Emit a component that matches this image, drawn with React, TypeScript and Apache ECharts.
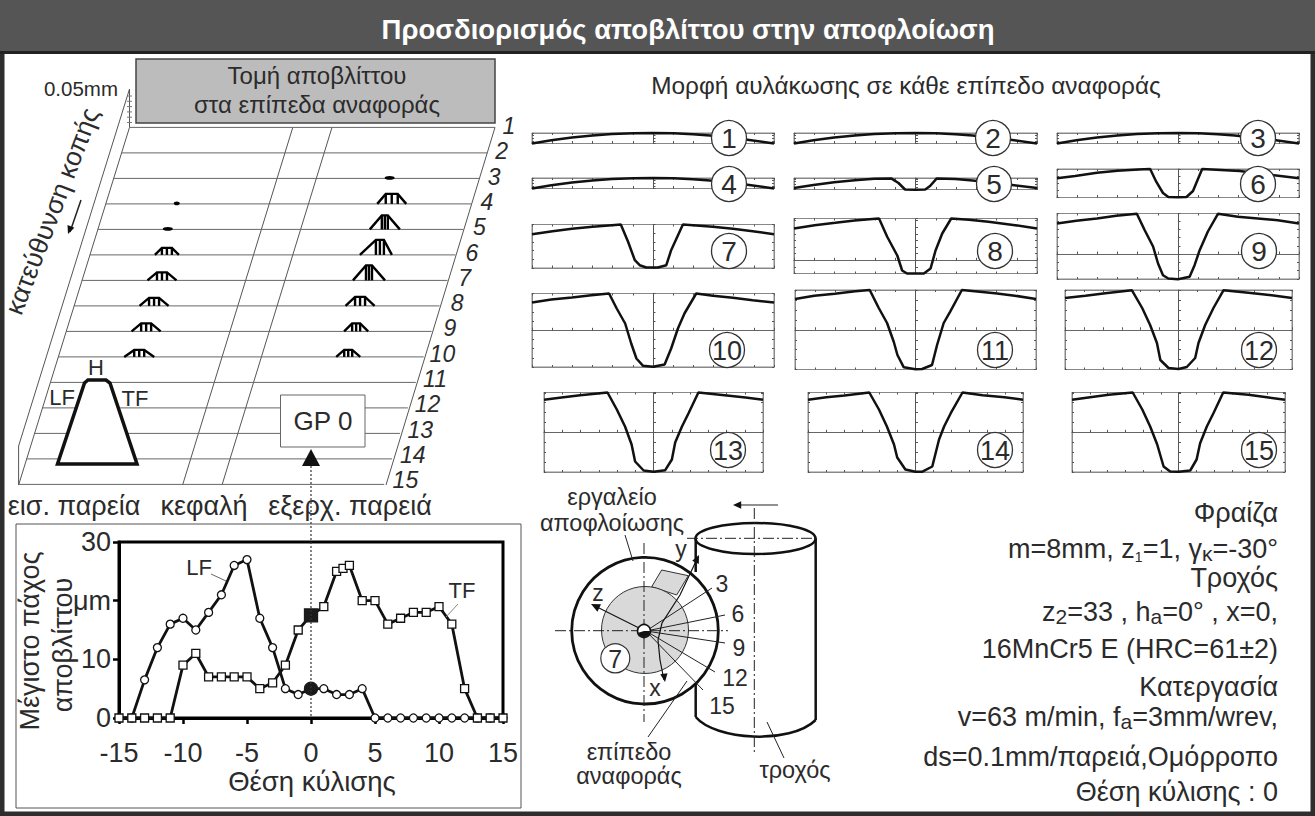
import React, { useEffect, useRef } from "react";
import * as echarts from "echarts";

const FONT = "Liberation Sans";
const INK = "#2b2b2b";

// ---- main thickness chart
const rollPositions = [-15,-14,-13,-12,-11,-10,-9,-8,-7,-6,-5,-4,-3,-2,-1,0,1,2,3,4,5,6,7,8,9,10,11,12,13,14,15];
const lfThickness = [0,0,6.5,12,16,17,15,18,21,26,27,17,12,5,4,5,5,4,4,5,0,0,0,0,0,0,0,0,0,0,0];
const tfPositions = [-15,-14,-13,-12,-11,-10,-9,-8,-7,-6,-5,-4,-3,-2,-1,0,1,2,2.5,3,4,5,6,7,8,9,10,11,12,13,14,15];
const tfThickness = [0,0,0,0,0,9,11,7,7,7,7,5,6,9,15,17.5,19,25,25.5,26,20,20,16,17,18,18,19,16,5,0,0,0];

// ---- perspective chip sections: [row, across, half width, height, half top, peak shift]
const rowNumbers = [1,2,3,4,5,6,7,8,9,10,11,12,13,14,15];
const leadingChips = [[4,71,3,0,0,0],[5,70,5,0,0,0],[6,77,12,7,5,0],[7,80,14.5,8,5,0],[8,80,14.5,8,5,0],[9,80,14.5,8,5,0],[10,81,15,7,5,0]];
const trailingChips = [[3,276,5,0,0,0],[4,286,14.5,10,6,0],[5,287,15,14,3,0],[6,286,16,15,4,4],[7,287,16,15,3,0],[8,286,14.5,9,5,0],[9,290,12,8,4,0],[10,290,12,7,4,0]];

// ---- groove profiles: x as % of half width, depth below the panel's top
const profileFlat = [[-100,10.5],[-84,7.3],[-67,4.6],[-50,2.5],[-34,1],[-16,0.3],[0,0],[17,0.3],[33,1.3],[47,2.5],[78,6.7],[100,10.5]];
const profile5 = [[-100,10],[-84,7],[-67,4.3],[-50,2.2],[-34,0.8],[-20,0.4],[-14,5],[-8.6,11.5],[0,11.8],[8,11.5],[12,8],[17.5,0.4],[33,1],[47,2.5],[78,6.7],[100,10]];
const profile6 = [[-100,9.3],[-85,7],[-67,3.7],[-50,1.7],[-33,0.5],[-23,0],[-18,12.7],[-12.4,24],[-8,28],[0,28.3],[7,28],[12.4,22],[16.5,10],[20,0],[51,2],[100,9.3]];
const profile7 = [[-100,9.7],[-83,6.7],[-67,4.3],[-50,2.3],[-34,0.7],[-26.6,0],[-20.6,17.3],[-15,35.7],[-11,40.7],[-5.5,43],[4,43],[11,40.7],[15,25.7],[24.7,0],[33,0.7],[49.5,2.3],[66,4.3],[82.4,6.7],[100,9.7]];
const profile8 = [[-100,10],[-83,6.7],[-66,4.3],[-50,2],[-33,0.3],[-30,0],[-23.4,18],[-15,37],[-11,52],[-7,55],[0,55],[6.9,55],[12.4,50],[16.5,32],[22,15],[29.4,0],[44,1.3],[60,3.3],[82,6.7],[100,10]];
const profile9 = [[-100,10],[-84,7.3],[-67,5],[-51,2.3],[-34,0.3],[-27.5,16.7],[-20.6,33],[-16.5,50],[-12.4,61.7],[-8,65],[0,65.7],[9.6,63.3],[13.7,51.7],[17.9,36.7],[24.7,18],[33,0.3],[49.5,3.3],[66,5],[82.4,6.7],[100,10]];
const profile10 = [[-100,9],[-84,6],[-67,4],[-51,1.7],[-36.3,0],[-30,15],[-23,30],[-18,50],[-13.7,65],[-8.2,72.3],[0,73.3],[9.6,71],[15,55],[20.6,35],[26,20],[35.7,0],[49.5,2.3],[66,4.3],[82.4,6.7],[100,9]];
const profile11 = [[-100,9],[-84,5.7],[-67,3.7],[-50,1.3],[-38,0],[-30.5,18],[-23.6,33],[-18,52],[-15,65],[-9.7,77.3],[0,79.3],[5.5,79],[13.7,75],[17.9,55],[23.4,33],[28.8,21.7],[38.5,0],[66,3.3],[82.4,5.7],[100,9]];
const profile12 = [[-100,8],[-82,5.7],[-64.5,3.3],[-41,0.3],[-32,18],[-25,35],[-19,53],[-16,70],[-8.8,78],[0,79],[7.3,77],[14.7,68],[17.6,53],[23.5,35],[30.8,18],[39.6,0.3],[61.6,2.7],[82,5.3],[100,8]];
const profile13 = [[-100,7.3],[-84,5],[-67,2.7],[-42,0],[-33.5,17],[-26,34],[-20,52],[-16.8,69],[-9,78],[0,79.3],[10.7,77.7],[16.8,67],[19.8,50],[26,34],[32,20.7],[41,0],[67,3],[84,5],[100,7.3]];
const profile14 = [[-100,7.3],[-83,4.7],[-66,3],[-43,0],[-34,17],[-26.6,34],[-20,52],[-17,65],[-9.4,77],[0,79.3],[6,79.3],[15.6,74],[18.7,60.7],[21.9,47],[26.6,34],[32.8,20.7],[43.7,0],[62.5,2.7],[82.8,4.7],[100,7.3]];
const profile15 = [[-100,7.3],[-83,4.7],[-65.6,2.3],[-43,0],[-34,17],[-26.6,34],[-20,52],[-14,74],[-7.8,79],[0,79.3],[11,78],[17,67],[20.3,50.7],[26.6,34],[32.8,20.7],[42,0],[65.6,2.3],[83,4.7],[100,7.3]];
const profiles = [profileFlat,profileFlat,profileFlat,profileFlat,profile5,profile6,profile7,profile8,profile9,profile10,profile11,profile12,profile13,profile14,profile15];

// panel layout: left, right, top, bottom, px below the horizontal axis, y tick step, label cx, label cy
const panelLayout = [
  [532,774,133,143.5,0,2.6,729,138],[794,1037,133,143.5,0,2.6,993,138],[1057,1299,133,143.5,0,2.6,1258,138],
  [532,774,178,188.5,0,2.6,729,184],[794,1037,178,189.5,0,2.6,994,184],[1057,1299,169,197.5,0,7,1258,184],
  [532,774,224.5,268,0,8.7,729,251],[794,1037,218.5,273.5,13.2,6.6,995,251],[1057,1299,213.5,279,25,8.3,1259,251],
  [532,774,293.5,367,36.7,9.2,727,350],[795,1036,290,369.5,39.7,9.9,995,350],[1065,1292,290,369.5,39.7,9.9,1259,350],
  [544,763,392.5,472,39.7,9.9,728,450],[808,1023,392.5,472,39.7,9.9,995,450],[1072,1285,392.5,472,39.7,9.9,1259,450],
];

const rightTexts = [
  ["Φραίζα", 513],
  ["m=8mm, z{s|1}=1, γ{b|κ}=-30°", 549],
  ["Τροχός", 578],
  ["z{b|2}=33 , h{b|a}=0° , x=0,", 612],
  ["16MnCr5 E (HRC=61±2)", 649],
  ["Κατεργασία", 687],
  ["v=63 m/min, f{b|a}=3mm/wrev,", 717],
  ["ds=0.1mm/παρειά,Ομόρροπο", 757],
  ["Θέση κύλισης : 0", 792],
] as const;

const diagramNumbers = [["3",722,584,712,588],["6",738,614,725,615],["9",739,648,725,643],["12",735,678,715,672],["15",722,706,703,690]] as const;

function label(text: string, x: number, y: number, fontSize: number, extra: any = {}, el: any = {}) {
  return {
    type: "text", x, y, z: 30, silent: true, ...el,
    style: { text, fill: INK, fontSize, fontFamily: FONT, align: "center", verticalAlign: "middle", ...extra },
  };
}
function seg(x1: number, y1: number, x2: number, y2: number, stroke = "#333", lineWidth = 1, z = 20, lineDash?: number[]) {
  return { type: "line", z, silent: true, shape: { x1, y1, x2, y2 }, style: { stroke, lineWidth, lineDash } };
}
function head(x1: number, y1: number, x2: number, y2: number, s = 8) {
  const a = Math.atan2(y2 - y1, x2 - x1);
  const p = (d: number) => [x2 - s * Math.cos(a + d), y2 - s * Math.sin(a + d)];
  return { type: "polygon", z: 21, silent: true, shape: { points: [[x2, y2], p(0.42), p(-0.42)] }, style: { fill: "#111" } };
}
const DASHDOT = [11, 3, 2, 3];

function decoration(): any[] {
  const els: any[] = [];
  // frame and title
  els.push({ type: "rect", z: 1, shape: { x: 2, y: 2, width: 1311, height: 812 }, style: { fill: "none", stroke: "#2e2e2e", lineWidth: 5 } });
  els.push({ type: "rect", z: 1, shape: { x: 0, y: 0, width: 1315, height: 52 }, style: { fill: "#555", stroke: "none" } });
  els.push(seg(0, 52.5, 1315, 52.5, "#222", 3, 2));
  els.push(label("Προσδιορισμός αποβλίττου στην αποφλοίωση", 688, 29, 27.5, { fill: "#fff", fontWeight: "bold" }));

  // perspective plane
  els.push(seg(18.6, 446, 129.5, 89, "#555", 1, 1));
  els.push(seg(18.6, 446, 18.6, 485, "#555", 1, 1));
  els.push(seg(129.5, 89, 129.5, 127.4, "#555", 1, 1));
  for (let i = 0; i < 6; i++) els.push(seg(127, 96 + i * 5.3, 132, 96 + i * 5.3, "#777", 1, 1));
  els.push(seg(129.5, 127.4, 18.6, 485, "#555", 1, 1));
  els.push(seg(495, 127.4, 386, 485, "#555", 1, 1));
  els.push(seg(292.8, 127.4, 182.6, 485, "#555", 1, 1));
  els.push(seg(332, 127.4, 222, 485, "#555", 1, 1));
  rowNumbers.forEach((r) => els.push(label(String(r), 509 - 7.4 * (r - 1), 126 + 25.3 * (r - 1), 23, { fontStyle: "italic" })));

  els.push(label("0.05mm", 81, 88, 20.5));
  els.push({ type: "rect", z: 5, shape: { x: 136, y: 59, width: 359, height: 64 }, style: { fill: "#bcbcbc", stroke: "#444", lineWidth: 1.5 } });
  els.push(label("Τομή αποβλίττου", 317, 75, 24));
  els.push(label("στα επίπεδα αναφοράς", 317, 104, 24));
  els.push(label("κατεύθυνση κοπής", 52, 211, 26.5, {}, { rotation: (69 * Math.PI) / 180 }));
  els.push(seg(81, 200, 70, 232, "#222", 1.5), head(81, 200, 68, 234, 9));

  els.push({ type: "polygon", z: 10, shape: { points: [[57.5, 464], [137, 464], [110, 383], [106, 380], [88, 380], [84.5, 383]] }, style: { fill: "#fff", stroke: "#111", lineWidth: 3.5 } });
  els.push(label("H", 96, 367, 22), label("LF", 62, 397, 22), label("TF", 135, 398, 22));
  els.push({ type: "rect", z: 10, shape: { x: 280.5, y: 395, width: 84.5, height: 52 }, style: { fill: "#fff", stroke: "#666", lineWidth: 1 } });
  els.push(label("GP 0", 323, 421, 26));
  els.push(label("εισ. παρεία", 74, 506, 27), label("κεφαλή", 204, 506, 27), label("εξερχ. παρειά", 350, 506, 27));
  els.push({ type: "polygon", z: 22, shape: { points: [[311, 449], [302, 466], [320, 466]] }, style: { fill: "#111" } });
  els.push(seg(311, 466, 311, 718, "#333", 1.2, 22, [2, 2]));

  // chart box
  els.push({ type: "rect", z: 1, shape: { x: 16, y: 524, width: 505, height: 284 }, style: { fill: "none", stroke: "#555", lineWidth: 1 } });
  els.push(label("Μέγιστο πάχος", 30, 641, 27, {}, { rotation: Math.PI / 2 }));
  els.push(label("αποβλίττου", 63, 645, 27, {}, { rotation: Math.PI / 2 }));
  els.push(label("Θέση κύλισης", 312, 781, 27.5));
  els.push(label("LF", 199, 567, 22), seg(211, 574, 226, 581, "#666", 1));
  els.push(label("TF", 462, 590, 22), seg(458, 604, 446, 617, "#888", 1));

  // section title and panel labels
  els.push(label("Μορφή αυλάκωσης σε κάθε επίπεδο αναφοράς", 906, 85, 24.4));
  panelLayout.forEach((p, i) => {
    els.push({ type: "circle", z: 25, shape: { cx: p[6], cy: p[7], r: 17.5 }, style: { fill: "#fff", stroke: "#333", lineWidth: 1.3 } });
    els.push(label(String(i + 1), p[6], p[7] + 0.5, i >= 9 ? 27 : 28));
  });

  // hobbing sketch
  els.push({ type: "ellipse", z: 6, shape: { cx: 755.5, cy: 538.5, rx: 60, ry: 15.5 }, style: { fill: "#fff", stroke: "#111", lineWidth: 2.5 } });
  els.push(seg(695.7, 538, 695.7, 572, "#111", 2.5, 6), seg(695.7, 680, 695.7, 717, "#111", 2.5, 6), seg(815.7, 538, 815.7, 720, "#111", 2.5, 6));
  els.push({ type: "bezierCurve", z: 6, shape: { x1: 695.7, y1: 717, cpx1: 715, cpy1: 740, cpx2: 790, cpy2: 745, x2: 815.7, y2: 720 }, style: { fill: "none", stroke: "#111", lineWidth: 2.5 } });
  els.push(seg(754.3, 508, 754.3, 753, "#222", 1, 7, DASHDOT), seg(687, 538.3, 820, 538.3, "#222", 1, 7, DASHDOT));
  els.push(seg(778, 505, 740, 505, "#222", 1.2), head(745, 505, 733, 505, 9));
  els.push({ type: "circle", z: 8, shape: { cx: 645, cy: 630.7, r: 73.3 }, style: { fill: "#fff", stroke: "#111", lineWidth: 2.8 } });
  els.push({ type: "polygon", z: 9, shape: { points: [[661.7, 570], [688.3, 575.7], [676.7, 595], [651.7, 586.7]] }, style: { fill: "#d9d9d9", stroke: "#333", lineWidth: 1 } });
  els.push({ type: "circle", z: 9, shape: { cx: 645, cy: 630, r: 43.5 }, style: { fill: "#d9d9d9", stroke: "#333", lineWidth: 1 } });
  els.push(seg(555, 630.7, 728, 630.7, "#222", 1, 20, DASHDOT), seg(644, 543, 644, 722, "#222", 1, 20, DASHDOT));
  els.push({ type: "polyline", z: 20, shape: { points: [[698, 557], [680, 595], [662, 623], [658, 640], [660, 660], [664, 680]] }, style: { fill: "none", stroke: "#111", lineWidth: 1.2 } });
  els.push(head(690, 574, 699, 555, 9), head(662, 660, 665, 682, 9));
  els.push(seg(643, 630, 595, 606, "#111", 1.2), head(620, 618, 591, 604, 10));
  els.push({ type: "circle", z: 21, shape: { cx: 644, cy: 631, r: 6.5 }, style: { fill: "#fff", stroke: "#111", lineWidth: 1.6 } });
  els.push({ type: "sector", z: 22, shape: { cx: 644, cy: 631, r: 6, startAngle: 0, endAngle: Math.PI * 0.9 }, style: { fill: "#111" } });
  diagramNumbers.forEach(([n, tx, ty, ex, ey]) => {
    els.push(seg(646, 631, ex, ey, "#222", 1));
    els.push(label(n, tx, ty, 23));
  });
  els.push(label("y", 681, 549, 23), label("z", 598, 593, 23), label("x", 655, 688, 23));
  els.push({ type: "circle", z: 24, shape: { cx: 615.3, cy: 658.3, r: 14.5 }, style: { fill: "#fff", stroke: "#333", lineWidth: 1.2 } });
  els.push(label("7", 615.3, 658.8, 25));
  els.push(label("εργαλείο", 612, 497, 23.5), label("αποφλοίωσης", 612, 523, 23.5));
  els.push(seg(625, 535, 633, 561, "#222", 1));
  els.push(seg(687, 681, 648, 737, "#222", 1));
  els.push(label("επίπεδο", 629, 752, 23.5), label("αναφοράς", 629, 776, 23.5));
  els.push(seg(767, 722, 784, 758, "#222", 1));
  els.push(label("τροχός", 795, 770, 23.5));

  // process data
  rightTexts.forEach(([text, y]) => {
    els.push(label(text, 1278, y, 27, {
      align: "right",
      rich: {
        s: { fontSize: 14, fontFamily: FONT, fill: INK, verticalAlign: "bottom", lineHeight: 28 },
        b: { fontSize: 21, fontFamily: FONT, fill: INK, verticalAlign: "bottom", lineHeight: 29 },
      },
    }));
  });
  return els;
}

const SKEW = 7.92;
function rowItem(_p: any, api: any) {
  const row = api.value(0);
  const a = api.coord([0, row]);
  const shift = SKEW * (row - 1);
  return { type: "line", shape: { x1: a[0] - shift, y1: a[1], x2: a[0] - shift + 365.5, y2: a[1] }, style: { stroke: "#666", lineWidth: 1 } };
}
function chipItem(_p: any, api: any) {
  const row = api.value(0), across = api.value(1), hw = api.value(2), h = api.value(3), top = api.value(4), sh = api.value(5);
  const c = api.coord([across, row]);
  const cx = c[0] - SKEW * (row - 1), y = c[1];
  const st = { fill: "none", stroke: "#000", lineWidth: 2.4 };
  if (h === 0) return { type: "ellipse", shape: { cx, cy: y - 0.5, rx: hw, ry: 1.8 }, style: { fill: "#000" } };
  const l = cx + sh - top, r = cx + sh + top;
  const children: any[] = [
    { type: "polyline", shape: { points: [[cx - hw, y], [l, y - h], [r, y - h], [cx + hw, y]] }, style: st },
    { type: "line", shape: { x1: l, y1: y - h, x2: l, y2: y }, style: st },
    { type: "line", shape: { x1: r, y1: y - h, x2: r, y2: y }, style: st },
    { type: "line", shape: { x1: cx + sh, y1: y - h, x2: cx + sh, y2: y }, style: st },
  ];
  return { type: "group", children };
}

function buildOption() {
  const grids: any[] = [
    { left: 119, top: 542, width: 384, height: 176, show: true, borderColor: "#000", borderWidth: 3, backgroundColor: "transparent" },
    { left: 129.5, top: 127.4, width: 365.5, height: 357, show: false },
  ];
  const xAxes: any[] = [
    {
      gridIndex: 0, type: "value", min: -15, max: 15, interval: 5, splitLine: { show: false },
      axisLine: { onZero: false, lineStyle: { color: "#000", width: 3 } },
      axisTick: { length: 6, lineStyle: { color: "#000", width: 2.5 } },
      axisLabel: { fontFamily: FONT, fontSize: 27, color: INK, margin: 21 },
    },
    { gridIndex: 1, type: "value", min: 0, max: 365.5, show: false },
  ];
  const yAxes: any[] = [
    {
      gridIndex: 0, type: "value", min: 0, max: 30, interval: 10, splitLine: { show: false },
      axisLine: { onZero: false, lineStyle: { color: "#000", width: 3 } },
      axisTick: { length: 6, lineStyle: { color: "#000", width: 2.5 } },
      axisLabel: { fontFamily: FONT, fontSize: 27, color: INK, margin: 8, formatter: (v: number) => (v === 20 ? "μm" : String(v)) },
    },
    { gridIndex: 1, type: "value", min: 1, max: 15, inverse: true, show: false },
  ];
  const mark = (x: number, y: number, size: number) =>
    x === 0
      ? { value: [x, y], symbolSize: size, itemStyle: { color: "#1a1a1a", borderColor: "#1a1a1a" } }
      : { value: [x, y] };
  const series: any[] = [
    {
      name: "LF", type: "line", xAxisIndex: 0, yAxisIndex: 0, clip: false, z: 4, symbol: "circle", symbolSize: 8, showAllSymbol: true,
      lineStyle: { color: "#111", width: 2.8 }, itemStyle: { color: "#fff", borderColor: "#111", borderWidth: 1.3 },
      data: rollPositions.map((x, i) => mark(x, lfThickness[i], 13)),
    },
    {
      name: "TF", type: "line", xAxisIndex: 0, yAxisIndex: 0, clip: false, z: 5, symbol: "rect", symbolSize: 8, showAllSymbol: true,
      lineStyle: { color: "#111", width: 2.8 }, itemStyle: { color: "#fff", borderColor: "#111", borderWidth: 1.3 },
      data: tfPositions.map((x, i) => mark(x, tfThickness[i], 13)),
    },
    { type: "custom", xAxisIndex: 1, yAxisIndex: 1, clip: false, z: 3, silent: true, encode: { x: 1, y: 0 }, renderItem: rowItem, data: rowNumbers.map((r) => [r, 0]) },
    { type: "custom", xAxisIndex: 1, yAxisIndex: 1, clip: false, z: 4, silent: true, encode: { x: 1, y: 0 }, renderItem: chipItem, data: [...leadingChips, ...trailingChips] },
  ];

  panelLayout.forEach((p, i) => {
    const [left, right, top, bottom, below, step] = p;
    const height = bottom - top;
    const g = grids.length;
    grids.push({ left, top, width: right - left, height, show: true, borderColor: "#888", borderWidth: 1, backgroundColor: "transparent" });
    const xBase = xAxes.length, yBase = yAxes.length;
    const tick = (len: number, inside: boolean) => ({ show: true, length: len, inside, lineStyle: { color: "#555", width: 1 } });
    const xCommon = { gridIndex: g, type: "value", min: -100, max: 100, interval: 100 / 6, splitLine: { show: false }, axisLabel: { show: false } };
    const yCommon = { gridIndex: g, type: "value", min: -below, max: height - below, interval: step, splitLine: { show: false }, axisLabel: { show: false } };
    xAxes.push(
      { ...xCommon, position: "bottom", axisLine: { onZero: true, lineStyle: { color: "#666", width: 1.2 } }, axisTick: tick(2.5, true) },
      { ...xCommon, position: "top", axisLine: { onZero: false, lineStyle: { color: "#888", width: 1 } }, axisTick: tick(2, true) },
      { ...xCommon, position: "bottom", axisLine: { onZero: false, lineStyle: { color: "#888", width: 1 } }, axisTick: tick(2, true) },
    );
    yAxes.push(
      { ...yCommon, position: "left", axisLine: { onZero: true, lineStyle: { color: "#555", width: 1 } }, axisTick: tick(2.5, true) },
      { ...yCommon, position: "left", axisLine: { onZero: false, lineStyle: { color: "#888", width: 1 } }, axisTick: tick(2, true) },
      { ...yCommon, position: "right", axisLine: { onZero: false, lineStyle: { color: "#888", width: 1 } }, axisTick: tick(2, true) },
    );
    series.push({
      name: `profile ${i + 1}`, type: "line", xAxisIndex: xBase, yAxisIndex: yBase, z: 6, symbol: "none", clip: false,
      lineStyle: { color: "#111", width: 2.5 },
      data: profiles[i].map(([x, d]) => [x, height - below - d]),
    });
  });

  return {
    animation: false,
    backgroundColor: "#fff",
    textStyle: { fontFamily: FONT },
    grid: grids, xAxis: xAxes, yAxis: yAxes, series,
    graphic: { elements: decoration() },
  };
}

export default function App() {
  const ref = useRef<HTMLDivElement>(null);
  useEffect(() => {
    const chart = echarts.init(ref.current!, undefined, { renderer: "svg" });
    chart.setOption(buildOption() as any);
    return () => chart.dispose();
  }, []);
  return <div ref={ref} style={{ position: "fixed", left: 0, top: 0, width: 1315, height: 816 }} />;
}
